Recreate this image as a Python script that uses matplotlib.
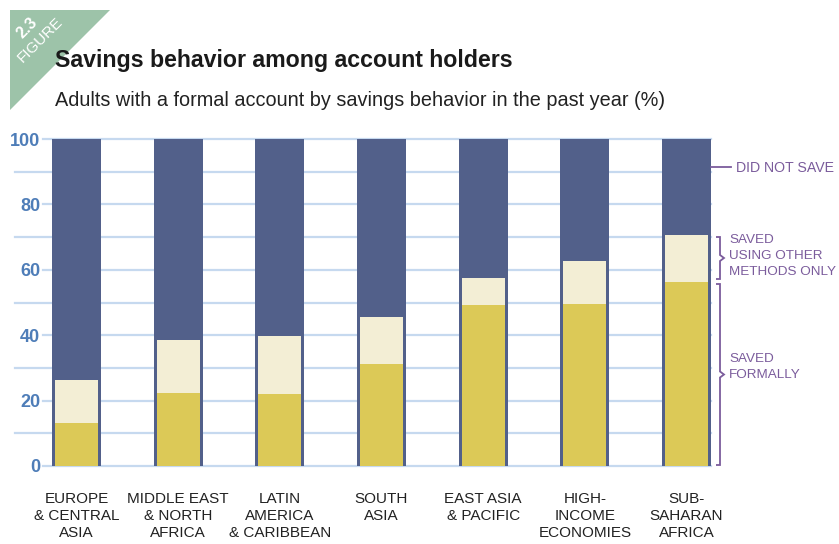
import matplotlib
matplotlib.use("Agg")
import matplotlib.pyplot as plt
from matplotlib.patches import Polygon, PathPatch
from matplotlib.path import Path

# data
regions = ["EUROPE\n& CENTRAL\nASIA", "MIDDLE EAST\n& NORTH\nAFRICA",
           "LATIN\nAMERICA\n& CARIBBEAN", "SOUTH\nASIA", "EAST ASIA\n& PACIFIC",
           "HIGH-\nINCOME\nECONOMIES", "SUB-\nSAHARAN\nAFRICA"]
saved_formally = [13.1, 22.3, 22.0, 31.2, 49.2, 49.5, 56.3]
saved_other = [13.2, 16.2, 17.8, 14.4, 8.3, 13.2, 14.3]
y_ticks = [0, 20, 40, 60, 80, 100]

DARK = "#52608a"
YELLOW = "#dcc957"
CREAM = "#f3eed5"
GRID = "#c6d9ef"
TICK = "#4e7db8"
PURPLE = "#7b5c9c"
GREEN = "#9dc3a9"

REG = "Liberation Sans"
# narrow text: Liberation Sans Narrow if present, picked through the stretch
NARROW = dict(family=["Liberation Sans", "DejaVu Sans"], fontstretch="condensed")

W, H = 839, 544
fig = plt.figure(figsize=(W / 100, H / 100), dpi=100)

def fx(x):
    return x / W

def fy(y):
    return 1 - y / H

# axes: x from 43px to 711px, y 0 at 466px, 100 at 139px
ax_left, ax_right = 43, 711
y0, y100 = 466, 139
ax = fig.add_axes([fx(ax_left), fy(y0), (ax_right - ax_left) / W, (y0 - y100) / H])
spacing = 101.67
x_first = 76.5
xl = (ax_left - x_first) / spacing
xr = (ax_right - x_first) / spacing
ax.set_xlim(xl, xr)
ax.set_ylim(0, 100)
for s in ax.spines.values():
    s.set_visible(False)

# gridlines, the minor ones run further left
x_minor_left = (15 - x_first) / spacing
for v in range(0, 101, 10):
    left = xl if v % 20 == 0 else x_minor_left
    ax.plot([left, xr], [v, v], color=GRID, lw=1.6, zorder=0, clip_on=False)

xs = list(range(len(regions)))
outer_w = 49 / spacing
inner_w = 43 / spacing
ax.bar(xs, [101.3] * len(xs), bottom=-1.3, width=outer_w, color=DARK, zorder=2)
ax.bar(xs, saved_formally, width=inner_w, color=YELLOW, zorder=3)
ax.bar(xs, saved_other, bottom=saved_formally, width=inner_w, color=CREAM, zorder=3)

ax.set_yticks(y_ticks)
ax.set_yticklabels([str(t) for t in y_ticks], color=TICK, fontsize=13,
                   fontweight="bold", family=REG)
ax.tick_params(axis="y", length=0, pad=2)
ax.set_xticks(xs)
ax.set_xticklabels(regions, fontsize=11, color="#222222",
                   linespacing=1.25, va="top", **NARROW)
ax.tick_params(axis="x", length=0, pad=19)

# right-side notes
ax.plot([6 + outer_w / 2, (731 - x_first) / spacing], [91.4, 91.4],
        color=PURPLE, lw=1.3, clip_on=False)
fig.text(fx(736), fy(168), "DID NOT SAVE", fontsize=10.2,
         color=PURPLE, va="center", ha="left", **NARROW)

def brace(y_top, y_bot, x=720):
    ym = (y_top + y_bot) / 2
    verts = [(fx(x - 4), fy(y_top)), (fx(x), fy(y_top)), (fx(x), fy(ym - 3)),
             (fx(x + 4), fy(ym)), (fx(x), fy(ym + 3)), (fx(x), fy(y_bot)),
             (fx(x - 4), fy(y_bot))]
    p = PathPatch(Path(verts), fill=False, edgecolor=PURPLE, lw=1.3,
                  transform=fig.transFigure)
    fig.add_artist(p)

brace(237, 279)
brace(284, 465)
fig.text(fx(729), fy(256), "SAVED\nUSING OTHER\nMETHODS ONLY",
         fontsize=9.7, color=PURPLE, va="center", ha="left", linespacing=1.4, **NARROW)
fig.text(fx(729), fy(367), "SAVED\nFORMALLY",
         fontsize=9.7, color=PURPLE, va="center", ha="left", linespacing=1.4, **NARROW)

# figure badge
tri = Polygon([(fx(10), fy(10)), (fx(110), fy(10)), (fx(10), fy(110))],
              closed=True, facecolor=GREEN, edgecolor="none", transform=fig.transFigure)
fig.add_artist(tri)
fig.text(fx(27), fy(28), "2.3", family=REG, fontsize=11.5, fontweight="bold",
         color="white", rotation=45, ha="center", va="center")
fig.text(fx(40), fy(40), "FIGURE", fontsize=11,
         color="white", rotation=45, ha="center", va="center", **NARROW)

fig.text(fx(55), fy(60), "Savings behavior among account holders",
         fontsize=16.7, fontweight="bold", color="#1a1a1a", ha="left", va="center", **NARROW)
fig.text(fx(55), fy(100), "Adults with a formal account by savings behavior in the past year (%)",
         family=REG, fontsize=14.3, color="#222222", ha="left", va="center")

fig.savefig("out.png", dpi=100)
